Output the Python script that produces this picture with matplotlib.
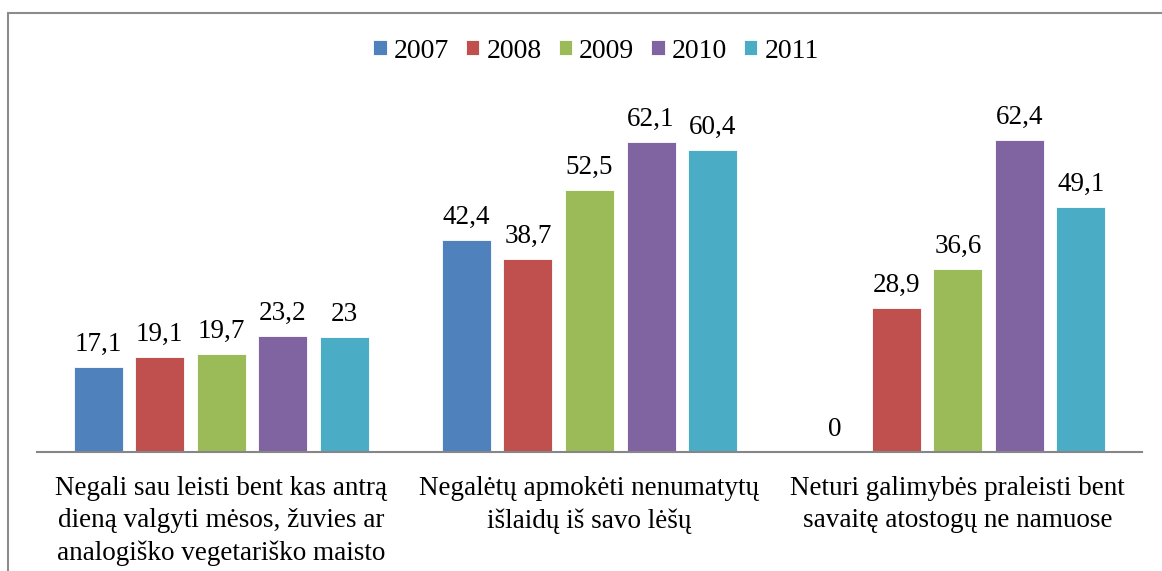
import numpy as np
import matplotlib.pyplot as plt
from matplotlib.patches import Rectangle

plt.rcParams['font.family'] = ['Liberation Serif', 'DejaVu Serif']

# duomenys
categories = [
    "Negali sau leisti bent kas antrą\ndieną valgyti mėsos, žuvies ar\nanalogiško vegetariško maisto",
    "Negalėtų apmokėti nenumatytų\nišlaidų iš savo lėšų",
    "Neturi galimybės praleisti bent\nsavaitę atostogų ne namuose",
]
years = ["2007", "2008", "2009", "2010", "2011"]
v2007 = [17.1, 42.4, 0]
v2008 = [19.1, 38.7, 28.9]
v2009 = [19.7, 52.5, 36.6]
v2010 = [23.2, 62.1, 62.4]
v2011 = [23, 60.4, 49.1]
series = [v2007, v2008, v2009, v2010, v2011]
colors = ["#4F81BD", "#C0504D", "#9BBB59", "#8064A2", "#4BACC6"]

fig = plt.figure(figsize=(11.62, 5.71), dpi=100)
ax = fig.add_axes([37 / 1162, 119 / 571, 1105 / 1162, 350 / 571])

x = np.arange(len(categories))
pitch = 0.167
width = 0.133
for i, (vals, col, yr) in enumerate(zip(series, colors, years)):
    pos = x + (i - 2) * pitch
    bars = ax.bar(pos, vals, width, color=col, edgecolor="white", linewidth=0.6, label=yr)
    for b, v in zip(bars, vals):
        txt = f"{v}".replace(".", ",")
        ax.annotate(txt, (b.get_x() + b.get_width() / 2, v), xytext=(0, 7),
                    textcoords="offset points", ha="center", va="bottom", fontsize=19.5)

ax.set_xlim(-0.5, 2.5)
ax.set_ylim(0, 70)
ax.set_yticks([])
ax.set_xticks(x)
ax.set_xticklabels(categories, fontsize=19.5, linespacing=1.38)
ax.tick_params(axis="x", length=0, pad=17)
for s in ["top", "right", "left"]:
    ax.spines[s].set_visible(False)
ax.spines["bottom"].set_color("#868686")
ax.spines["bottom"].set_linewidth(1.5)

leg = fig.legend(loc="center", bbox_to_anchor=(596 / 1162, 1 - 51 / 571), ncol=5, frameon=False,
                 fontsize=20, handlelength=0.48, handleheight=0.48, handletextpad=0.25,
                 columnspacing=0.62)

# ramelis
fig.patches.append(Rectangle((8 / 1162, -0.2), 1.5, 1.2 - 13 / 571, transform=fig.transFigure,
                             fill=False, edgecolor="#8c8c8c", linewidth=1.5))

fig.savefig("out.png", dpi=100)
